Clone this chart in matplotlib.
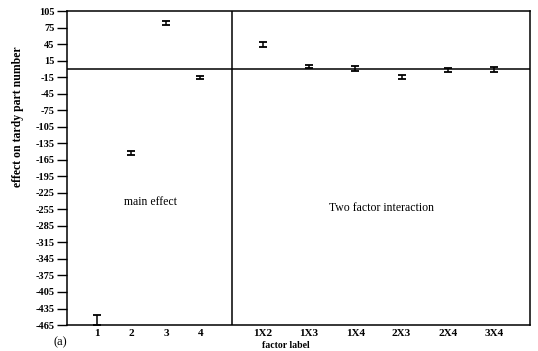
import numpy as np
import matplotlib
matplotlib.use("Agg")
import matplotlib.pyplot as plt

# ---- data ----
main_labels = ["1", "2", "3", "4"]
main_means = [-456, -153, 83, -16]
main_errs = [9, 4, 4, 3]

inter_labels = ["1X2", "1X3", "1X4", "2X3", "2X4", "3X4"]
inter_means = [44, 4, 1, -15, -2, -1]
inter_errs = [4, 3, 4, 4, 3, 5]

yticks = list(range(105, -466, -30))

# ---- figure ----
plt.rcParams['font.family'] = ['Liberation Serif', 'DejaVu Serif']
plt.rcParams['font.weight'] = 'bold'
fig = plt.figure(figsize=(5.38, 3.51), dpi=100)
ax = fig.add_axes([0.1245, 0.074, 0.8605, 0.8945])

main_x = np.arange(1, len(main_labels) + 1)
divider = 4.91
inter_x = divider + 0.9 + np.arange(len(inter_labels)) * 1.34

eb_kw = dict(fmt='none', ecolor='black', elinewidth=1.1, capsize=3.2, capthick=1.3)
ax.errorbar(main_x, main_means, yerr=main_errs, **eb_kw)
ax.errorbar(inter_x, inter_means, yerr=inter_errs, **eb_kw)

ax.axhline(0, color='black', lw=1.1)
ax.axvline(divider, color='black', lw=1.1)

ax.set_xlim(0.13, 13.55)
ax.set_ylim(-465, 105)
ax.set_yticks(yticks)
ax.set_yticklabels([str(t) for t in yticks], fontsize=7.5, fontweight='bold')
ax.set_xticks(list(main_x) + list(inter_x))
ax.set_xticklabels(main_labels + inter_labels, fontsize=8, fontweight='bold')
ax.tick_params(axis='x', length=0, pad=3)
ax.tick_params(axis='y', length=7, width=1, direction='out', pad=2)
for s in ax.spines.values():
    s.set_linewidth(1.1)

ax.set_ylabel("effect on tardy part number", fontsize=8.5, fontweight='bold')
ax.yaxis.set_label_coords(-0.093, 0.662)

ax.text(2.54, -242, "main effect", fontsize=8.5, fontweight='normal',
        ha='center', va='center')
ax.text(9.26, -252, "Two factor interaction", fontsize=8.5, fontweight='normal',
        ha='center', va='center')

fig.text(286 / 538, 1 - 345.5 / 351, "factor label", fontsize=7, fontweight='bold',
         ha='center', va='center')
fig.text(60 / 538, 1 - 342 / 351, "(a)", fontsize=9, fontweight='normal',
         ha='center', va='center')

fig.savefig("out.png", dpi=100)
